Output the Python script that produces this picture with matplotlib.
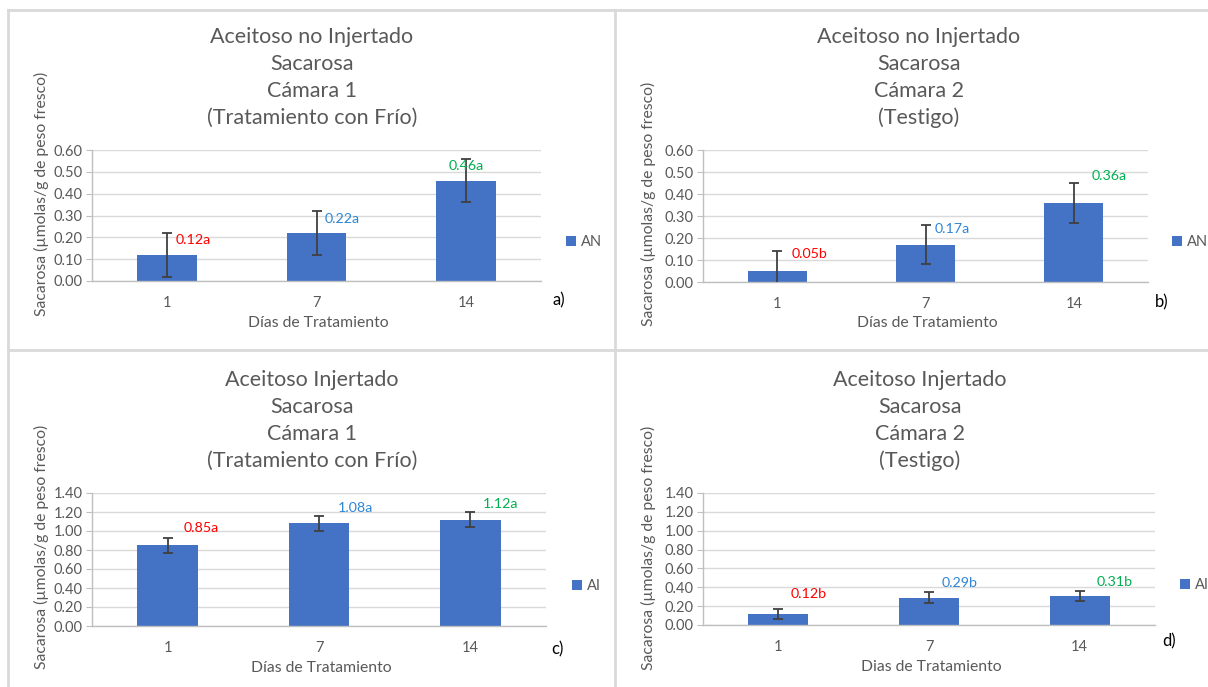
import matplotlib
matplotlib.use("Agg")
import matplotlib.pyplot as plt
from matplotlib.lines import Line2D

plt.rcParams["font.family"] = ["Lato", "DejaVu Sans"]

W, H = 1208, 687

days = ["1", "7", "14"]

# sacarosa, umolas/g de peso fresco
an_frio = [0.12, 0.22, 0.46]
an_frio_err = [0.10, 0.10, 0.10]
an_frio_grp = ["a", "a", "a"]

an_testigo = [0.05, 0.17, 0.36]
an_testigo_err = [0.09, 0.09, 0.09]
an_testigo_grp = ["b", "a", "a"]

ai_frio = [0.85, 1.08, 1.12]
ai_frio_err = [0.08, 0.08, 0.08]
ai_frio_grp = ["a", "a", "a"]

ai_testigo = [0.12, 0.29, 0.31]
ai_testigo_err = [0.055, 0.055, 0.055]
ai_testigo_grp = ["b", "b", "b"]

BAR = "#4472C4"
GRAY = "#595959"
GRID = "#D9D9D9"
LABEL_COLORS = ["#FF0000", "#2F86D6", "#00B050"]


def px(x, y):
    return x / W, 1 - y / H


def panel(fig, vals, errs, grps, series, titles, xlabel, letter, ymax, box,
          title_x, ylab_x, ylab_y, xlab_y, leg, letter_xy, offsets):
    l, t, r, b = box
    ax = fig.add_axes([l / W, 1 - b / H, (r - l) / W, (b - t) / H])
    x = range(len(days))
    bars = ax.bar(x, vals, width=0.4, color=BAR, label=series, zorder=2)
    ax.errorbar(x, vals, yerr=errs, fmt="none", ecolor="#404040",
                elinewidth=1.3, capsize=3.5, capthick=1.3, zorder=3)
    for i, (v, g) in enumerate(zip(vals, grps)):
        dx, dy = offsets[i]
        ax.text(i + dx, v + dy, f"{v:.2f}{g}", color=LABEL_COLORS[i],
                fontsize=10.3, ha="center", va="center", zorder=4)
    ax.set_xlim(-0.5, 2.5)
    ax.set_ylim(0, ymax)
    step = 0.1 if ymax < 1 else 0.2
    n = int(round(ymax / step))
    ax.set_yticks([k * step for k in range(n + 1)])
    ax.set_yticklabels([f"{k * step:.2f}" for k in range(n + 1)])
    ax.set_xticks(list(x))
    ax.set_xticklabels(days)
    ax.yaxis.grid(True, color=GRID, lw=1.0, zorder=0)
    ax.set_axisbelow(True)
    for s in ["top", "right"]:
        ax.spines[s].set_visible(False)
    for s in ["left", "bottom"]:
        ax.spines[s].set_color("#BFBFBF")
        ax.spines[s].set_linewidth(1.0)
    ax.tick_params(axis="y", colors="#BFBFBF", labelcolor=GRAY,
                   labelsize=10.5, length=4, pad=3)
    ax.tick_params(axis="x", length=0, labelcolor=GRAY, labelsize=10.5,
                   pad=11)
    ax.patch.set_alpha(0)

    for k, line in enumerate(titles):
        fig.text(*px(title_x, box[1] - 113 + 27 * k), line, ha="center",
                 va="center", fontsize=15.5, color=GRAY)
    fig.text(*px(ylab_x, ylab_y), "Sacarosa (µmolas/g de peso fresco)",
             rotation=90, ha="center", va="center", fontsize=11.3,
             color=GRAY)
    fig.text(*px((l + r) / 2 + 2, xlab_y), xlabel, ha="center", va="center",
             fontsize=11.3, color=GRAY)
    ax.legend(handles=[bars], loc="center left", frameon=False,
              bbox_to_anchor=px(*leg), bbox_transform=fig.transFigure,
              borderpad=0, borderaxespad=0, handlelength=0.7,
              handleheight=0.7, handletextpad=0.3, fontsize=10.5,
              labelcolor=GRAY)
    fig.text(*px(*letter_xy), letter, ha="center", va="center",
             fontsize=12, color="black")
    return ax


fig = plt.figure(figsize=(W / 100, H / 100), dpi=100)
fig.patch.set_facecolor("white")

panel(fig, an_frio, an_frio_err, an_frio_grp, "AN",
      ["Aceitoso no Injertado", "Sacarosa", "Cámara 1",
       "(Tratamiento con Frío)"],
      "Días de Tratamiento", "a)", 0.6, (92, 150, 541, 281),
      312, 41, 194, 323, (566, 242), (559, 300),
      [(0.175, 0.07), (0.17, 0.064), (0.0, 0.067)])

panel(fig, an_testigo, an_testigo_err, an_testigo_grp, "AN",
      ["Aceitoso no Injertado", "Sacarosa", "Cámara 2", "(Testigo)"],
      "Días de Tratamiento", "b)", 0.6, (703, 150, 1148, 282),
      919, 648, 204, 323, (1172, 242), (1162, 302),
      [(0.22, 0.077), (0.18, 0.071), (0.24, 0.12)])

panel(fig, ai_frio, ai_frio_err, ai_frio_grp, "AI",
      ["Aceitoso Injertado", "Sacarosa", "Cámara 1",
       "(Tratamiento con Frío)"],
      "Días de Tratamiento", "c)", 1.4, (92, 493, 546, 626),
      312, 41, 547, 668, (572, 586), (557, 649),
      [(0.22, 0.18), (0.24, 0.16), (0.2, 0.16)])

panel(fig, ai_testigo, ai_testigo_err, ai_testigo_grp, "AI",
      ["Aceitoso Injertado", "Sacarosa", "Cámara 2", "(Testigo)"],
      "Dias de Tratamiento", "d)", 1.4, (703, 493, 1155, 625),
      920, 648, 548, 667, (1180, 585), (1169, 641),
      [(0.2, 0.21), (0.2, 0.155), (0.23, 0.146)])

# panel frames
frame = dict(color="#D9D9D9", lw=2.0, transform=fig.transFigure)
fig.add_artist(Line2D([8 / W, 1], [1 - 10 / H] * 2, **frame))
fig.add_artist(Line2D([8 / W] * 2, [0, 1 - 10 / H], **frame))
fig.add_artist(Line2D([615 / W] * 2, [0, 1 - 10 / H], **frame))
fig.add_artist(Line2D([8 / W, 1], [1 - 350 / H] * 2, **frame))

fig.savefig("out.png", dpi=100)
